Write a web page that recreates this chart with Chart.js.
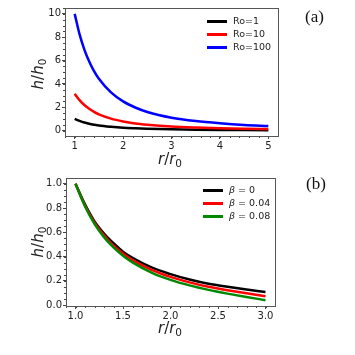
<!DOCTYPE html>
<html>
<head>
<meta charset="utf-8">
<script src="https://cdn.jsdelivr.net/npm/chart.js@4.4.0/dist/chart.umd.min.js"></script>
<style>
  body { margin: 0; background: #fff; width: 355px; height: 355px; overflow: hidden; }
  .panel { position: absolute; left: 0; width: 355px; }
  .panel canvas { display: block; }
  .lbl { position: absolute; font-family: "DejaVu Sans", sans-serif; font-size: 15px; line-height: 15px; color: #222; white-space: nowrap; }
  .lbl sub { font-size: 10.5px; font-style: normal; vertical-align: baseline; position: relative; top: 3px; }
  .ylab { transform: translate(-50%, -50%) rotate(-90deg); }
  .xlab { transform: translate(-50%, -50%); }
  .tag { position: absolute; font-family: "Liberation Serif", "DejaVu Serif", serif; font-size: 17px; color: #111; transform: translateY(-50%); }
  .leg { position: absolute; font-family: "DejaVu Sans", sans-serif; font-size: 9.5px; color: #222; }
  .leg div { height: 13px; line-height: 13px; white-space: nowrap; }
  .leg span.h { display: inline-block; width: 20px; height: 2.5px; vertical-align: middle; margin-right: 6px; }
</style>
</head>
<body>
<div class="panel" style="top:0;height:175px"><canvas id="chartA" width="355" height="175"></canvas></div>
<div class="panel" style="top:170px;height:185px"><canvas id="chartB" width="355" height="185"></canvas></div>

<div class="lbl ylab" style="left:39px;top:74px"><i>h</i>/<i>h</i><sub>0</sub></div>
<div class="lbl xlab" style="left:170px;top:160px"><i>r</i>/<i>r</i><sub>0</sub></div>
<div class="lbl ylab" style="left:39px;top:242px"><i>h</i>/<i>h</i><sub>0</sub></div>
<div class="lbl xlab" style="left:170px;top:329px"><i>r</i>/<i>r</i><sub>0</sub></div>
<div class="tag" style="left:305px;top:17px">(a)</div>
<div class="tag" style="left:306px;top:184px">(b)</div>

<div class="leg" style="left:207px;top:14px">
  <div><span class="h" style="background:#000"></span>Ro=1</div>
  <div><span class="h" style="background:#f00"></span>Ro=10</div>
  <div><span class="h" style="background:#00f"></span>Ro=100</div>
</div>
<div class="leg" style="left:203px;top:183px">
  <div><span class="h" style="background:#000"></span><i>β</i> = 0</div>
  <div><span class="h" style="background:#f00"></span><i>β</i> = 0.04</div>
  <div><span class="h" style="background:#080"></span><i>β</i> = 0.08</div>
</div>

<script>
// panel (a): h/h0 gegen r/r0 fuer verschiedene Ro
const rA = [1, 1.1, 1.2, 1.3, 1.4, 1.5, 1.75, 2, 2.25, 2.5, 3, 3.5, 4, 4.5, 5];
const ro1 = [1, 0.83, 0.69, 0.59, 0.51, 0.44, 0.33, 0.25, 0.2, 0.16, 0.11, 0.08, 0.06, 0.05, 0.04];
const ro10 = [3.16, 2.61, 2.19, 1.87, 1.61, 1.4, 1.03, 0.79, 0.62, 0.51, 0.35, 0.26, 0.2, 0.16, 0.13];
const ro100 = [10, 8.26, 6.94, 5.92, 5.1, 4.44, 3.27, 2.5, 1.98, 1.6, 1.11, 0.82, 0.63, 0.49, 0.4];
const xTicksA = [1, 2, 3, 4, 5];
const yTicksA = [0, 2, 4, 6, 8, 10];

// panel (b): verschiedene beta
const rB = [1, 1.1, 1.2, 1.3, 1.4, 1.5, 1.6, 1.8, 2.0, 2.2, 2.4, 2.6, 2.8, 3.0];
const beta0 = [1, 0.83, 0.69, 0.59, 0.51, 0.44, 0.39, 0.31, 0.255, 0.21, 0.175, 0.15, 0.128, 0.108];
const beta004 = [1, 0.82, 0.68, 0.575, 0.49, 0.425, 0.37, 0.29, 0.232, 0.187, 0.15, 0.122, 0.097, 0.073];
const beta008 = [1, 0.815, 0.67, 0.56, 0.475, 0.407, 0.352, 0.268, 0.208, 0.162, 0.125, 0.094, 0.066, 0.04];
const xTicksB = [1.0, 1.5, 2.0, 2.5, 3.0];
const yTicksB = [0.0, 0.2, 0.4, 0.6, 0.8, 1.0];

function pts(xs, ys) {
    return xs.map((x, i) => ({ x: x, y: ys[i] }));
}

// Rahmen + kleine Ticks (wie matplotlib minorticks_on)
const framePlugin = {
    id: 'frame',
    afterDraw(chart, args, opts) {
        const ctx = chart.ctx;
        const a = chart.chartArea;
        const xs = chart.scales.x, ys = chart.scales.y;
        ctx.save();
        ctx.strokeStyle = '#444';
        ctx.lineWidth = 1;
        ctx.beginPath();
        for (let v = Math.ceil(xs.min / opts.xMinor); v * opts.xMinor <= xs.max + 1e-9; v++) {
            const p = Math.round(xs.getPixelForValue(v * opts.xMinor)) + 0.5;
            if (p < a.left || p > a.right) continue;
            ctx.moveTo(p, a.bottom);
            ctx.lineTo(p, a.bottom + 2);
        }
        for (let v = Math.ceil(ys.min / opts.yMinor); v * opts.yMinor <= ys.max + 1e-9; v++) {
            const p = Math.round(ys.getPixelForValue(v * opts.yMinor)) + 0.5;
            if (p < a.top || p > a.bottom) continue;
            ctx.moveTo(a.left, p);
            ctx.lineTo(a.left - 2, p);
        }
        ctx.stroke();
        ctx.strokeStyle = '#555';
        ctx.strokeRect(Math.round(a.left) + 0.5, Math.round(a.top) + 0.5,
            Math.round(a.right - a.left), Math.round(a.bottom - a.top));
        ctx.restore();
    }
};

function makeChart(id, datasets, cfg) {
    new Chart(document.getElementById(id), {
        type: 'line',
        data: { datasets: datasets },
        plugins: [framePlugin],
        options: {
            responsive: false,
            animation: false,
            events: [],
            layout: { padding: { left: 0, right: cfg.padRight, top: cfg.padTop, bottom: 0 } },
            elements: {
                point: { radius: 0 },
                line: { borderWidth: 2.5, cubicInterpolationMode: 'monotone' }
            },
            plugins: {
                legend: { display: false },
                tooltip: { enabled: false },
                frame: { xMinor: cfg.xMinor, yMinor: cfg.yMinor }
            },
            scales: {
                x: {
                    type: 'linear',
                    min: cfg.xMin, max: cfg.xMax,
                    afterBuildTicks: s => { s.ticks = cfg.xTicks.map(v => ({ value: v })); },
                    afterFit: s => { s.height = cfg.xHeight; },
                    grid: { drawOnChartArea: false, tickLength: 3, color: '#444' },
                    border: { display: false },
                    ticks: {
                        maxRotation: 0, padding: 1, color: '#222',
                        font: { family: 'DejaVu Sans', size: 10 },
                        callback: v => cfg.xFmt(v)
                    }
                },
                y: {
                    type: 'linear',
                    min: cfg.yMin, max: cfg.yMax,
                    afterBuildTicks: s => { s.ticks = cfg.yTicks.map(v => ({ value: v })); },
                    afterFit: s => { s.width = cfg.yWidth; },
                    grid: { drawOnChartArea: false, tickLength: 3, color: '#444' },
                    border: { display: false },
                    ticks: {
                        padding: 1, color: '#222',
                        font: { family: 'DejaVu Sans', size: 10 },
                        callback: v => cfg.yFmt(v)
                    }
                }
            }
        }
    });
}

makeChart('chartA', [
    { label: 'Ro=1', data: pts(rA, ro1), borderColor: '#000', order: 3 },
    { label: 'Ro=10', data: pts(rA, ro10), borderColor: '#f00', order: 2 },
    { label: 'Ro=100', data: pts(rA, ro100), borderColor: '#00f', order: 1 }
], {
    xMin: 0.8, xMax: 5.2, yMin: -0.46, yMax: 10.5,
    xTicks: xTicksA, yTicks: yTicksA, xMinor: 0.2, yMinor: 0.5,
    padRight: 77, padTop: 8, xHeight: 39, yWidth: 65,
    xFmt: v => String(v), yFmt: v => String(v)
});

makeChart('chartB', [
    { label: 'b0', data: pts(rB, beta0), borderColor: '#000', order: 3 },
    { label: 'b004', data: pts(rB, beta004), borderColor: '#f00', order: 2 },
    { label: 'b008', data: pts(rB, beta008), borderColor: '#080', order: 1 }
], {
    xMin: 0.9, xMax: 3.1, yMin: -0.008, yMax: 1.048,
    xTicks: xTicksB, yTicks: yTicksB, xMinor: 0.1, yMinor: 0.05,
    padRight: 80, padTop: 8, xHeight: 49, yWidth: 66,
    xFmt: v => v.toFixed(1), yFmt: v => v.toFixed(1)
});
</script>
</body>
</html>
